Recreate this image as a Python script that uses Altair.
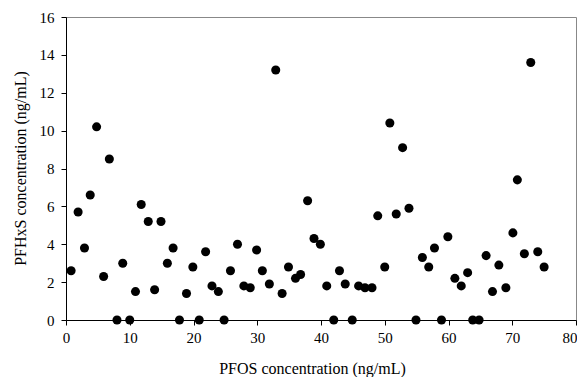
import altair as alt
import pandas as pd

pfos = [0.8, 1.9, 2.9, 3.8, 4.8, 5.9, 6.8, 8.0, 8.9, 10.0,
        10.9, 11.8, 12.9, 13.9, 14.9, 15.9, 16.8, 17.8, 18.9, 19.9,
        20.9, 21.9, 22.9, 23.9, 24.8, 25.8, 26.9, 27.9, 28.9, 29.9,
        30.8, 31.9, 32.9, 33.9, 34.9, 36.0, 36.8, 37.9, 38.9, 39.9,
        40.9, 42.0, 42.9, 43.8, 44.9, 45.9, 46.9, 48.0, 48.9, 50.0,
        50.8, 51.8, 52.8, 53.8, 54.9, 55.9, 56.9, 57.8, 58.9, 59.9,
        61.0, 62.0, 63.0, 63.8, 64.8, 65.9, 66.9, 67.9, 69.0, 70.1,
        70.8, 71.9, 72.9, 74.0, 75.0]
pfhxs = [2.6, 5.7, 3.8, 6.6, 10.2, 2.3, 8.5, 0, 3.0, 0,
         1.5, 6.1, 5.2, 1.6, 5.2, 3.0, 3.8, 0, 1.4, 2.8,
         0, 3.6, 1.8, 1.5, 0, 2.6, 4.0, 1.8, 1.7, 3.7,
         2.6, 1.9, 13.2, 1.4, 2.8, 2.2, 2.4, 6.3, 4.3, 4.0,
         1.8, 0, 2.6, 1.9, 0, 1.8, 1.7, 1.7, 5.5, 2.8,
         10.4, 5.6, 9.1, 5.9, 0, 3.3, 2.8, 3.8, 0, 4.4,
         2.2, 1.8, 2.5, 0, 0, 3.4, 1.5, 2.9, 1.7, 4.6,
         7.4, 3.5, 13.6, 3.6, 2.8]
x_ticks = [0, 10, 20, 30, 40, 50, 60, 70, 80]
y_ticks = [0, 2, 4, 6, 8, 10, 12, 14, 16]

df = pd.DataFrame({"pfos": pfos, "pfhxs": pfhxs})

FONT = "Liberation Serif"

chart = alt.Chart(df).mark_circle(size=82, color="black", opacity=1).encode(
    x=alt.X("pfos:Q", scale=alt.Scale(domain=[0, 80], nice=False),
            axis=alt.Axis(values=x_ticks, title="PFOS concentration (ng/mL)",
                          labelAlign={"condition": {"test": "datum.value == 80", "value": "right"},
                                      "value": "center"},
                          labelOffset={"condition": {"test": "datum.value == 80", "value": 1},
                                       "value": 0},
                          labelPadding=5,
                          titleX=246, titleY=53, titleBaseline="alphabetic",
                          titleAlign="center")),
    y=alt.Y("pfhxs:Q", scale=alt.Scale(domain=[0, 16], nice=False),
            axis=alt.Axis(values=y_ticks, title="PFHxS concentration (ng/mL)",
                          labelPadding=7,
                          titleX=-41, titleY=151, titleAngle=-90,
                          titleBaseline="alphabetic", titleAlign="center")),
).properties(
    width=510, height=303,
    autosize=alt.AutoSizeParams(type="none"),
    padding={"left": 58, "top": 9, "right": 1, "bottom": 57},
).configure_axis(
    grid=False,
    domainColor="black", domainWidth=1,
    tickColor="black", tickSize=5, tickWidth=1,
    labelFont=FONT, labelFontSize=15, labelColor="black",
    titleFont=FONT, titleFontSize=16, titleFontWeight="normal", titleColor="black",
).configure_view(
    stroke="#888888", strokeWidth=1,
)

chart.save("out.html", embed_options={"renderer": "svg", "actions": False})
